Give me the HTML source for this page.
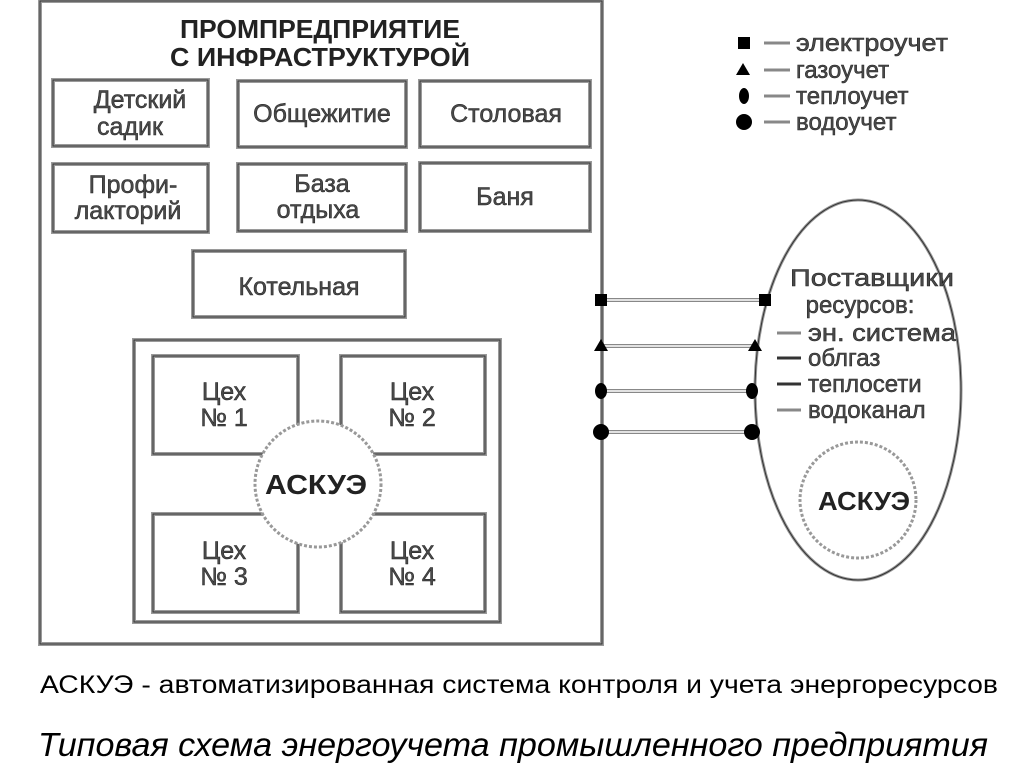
<!DOCTYPE html>
<html><head><meta charset="utf-8"><style>
html,body{margin:0;padding:0;background:#fff;}
svg{display:block;}
text{font-family:"Liberation Sans",sans-serif;}
</style></head><body>
<svg width="1024" height="767" viewBox="0 0 1024 767" xmlns="http://www.w3.org/2000/svg">
<defs>
<style>
.b{fill:#fff;stroke:#9a9a9a;stroke-width:4;}
.bi{fill:none;stroke:#333;stroke-width:1;}
.t{fill:#4a4a4a;font-size:25px;text-anchor:middle;stroke:#222;stroke-width:0.5;}
.h{fill:#222;font-size:26px;font-weight:bold;text-anchor:middle;}
.lg{fill:#4a4a4a;font-size:24px;stroke:#222;stroke-width:0.5;}
.e{fill:#4a4a4a;font-size:24px;stroke:#222;stroke-width:0.5;}
</style>
</defs>
<rect x="40" y="1" width="562" height="643" class="b"/>
<rect x="40" y="1" width="562" height="643" class="bi"/>
<text class="h" x="320" y="38" textLength="280" lengthAdjust="spacingAndGlyphs">ПРОМПРЕДПРИЯТИЕ</text>
<text class="h" x="320" y="66" textLength="300" lengthAdjust="spacingAndGlyphs">С ИНФРАСТРУКТУРОЙ</text>

<rect x="53" y="80" width="155" height="66" class="b"/><rect x="53" y="80" width="155" height="66" class="bi"/>
<text class="t" x="140" y="108">Детский</text><text class="t" x="130" y="135">садик</text>
<rect x="238" y="81" width="168" height="66" class="b"/><rect x="238" y="81" width="168" height="66" class="bi"/>
<text class="t" x="322" y="122">Общежитие</text>
<rect x="420" y="81" width="170" height="66" class="b"/><rect x="420" y="81" width="170" height="66" class="bi"/>
<text class="t" x="506" y="122">Столовая</text>

<rect x="53" y="164" width="155" height="68" class="b"/><rect x="53" y="164" width="155" height="68" class="bi"/>
<text class="t" x="133" y="193">Профи-</text><text class="t" x="128" y="219">лакторий</text>
<rect x="238" y="164" width="168" height="67" class="b"/><rect x="238" y="164" width="168" height="67" class="bi"/>
<text class="t" x="322" y="192">База</text><text class="t" x="318" y="218">отдыха</text>
<rect x="420" y="163" width="170" height="68" class="b"/><rect x="420" y="163" width="170" height="68" class="bi"/>
<text class="t" x="505" y="205">Баня</text>

<rect x="193" y="251" width="212" height="66" class="b"/><rect x="193" y="251" width="212" height="66" class="bi"/>
<text class="t" x="299" y="295">Котельная</text>

<rect x="134" y="340" width="366" height="282" class="b"/><rect x="134" y="340" width="366" height="282" class="bi"/>
<rect x="153" y="356" width="145" height="98" class="b"/><rect x="153" y="356" width="145" height="98" class="bi"/>
<rect x="341" y="356" width="144" height="98" class="b"/><rect x="341" y="356" width="144" height="98" class="bi"/>
<rect x="153" y="514" width="145" height="98" class="b"/><rect x="153" y="514" width="145" height="98" class="bi"/>
<rect x="341" y="514" width="144" height="98" class="b"/><rect x="341" y="514" width="144" height="98" class="bi"/>
<text class="t" x="224" y="400">Цех</text><text class="t" x="224" y="426">№  1</text>
<text class="t" x="412" y="400">Цех</text><text class="t" x="412" y="426">№  2</text>
<text class="t" x="224" y="559">Цех</text><text class="t" x="224" y="585">№  3</text>
<text class="t" x="412" y="559">Цех</text><text class="t" x="412" y="585">№  4</text>
<circle cx="318" cy="484" r="63" fill="#fff" stroke="#999" stroke-width="3" stroke-dasharray="3 2"/>
<text class="h" x="316" y="494" style="font-size:28px" textLength="102" lengthAdjust="spacingAndGlyphs">АСКУЭ</text>

<g stroke="#888" stroke-width="4" fill="none">
<line x1="601" y1="300" x2="765" y2="300"/>
<line x1="601" y1="346" x2="755" y2="346"/>
<line x1="601" y1="391" x2="752" y2="391"/>
<line x1="601" y1="432" x2="752" y2="432"/>
</g>
<g stroke="#fff" stroke-width="1.5">
<line x1="601" y1="300" x2="765" y2="300"/>
<line x1="601" y1="346" x2="755" y2="346"/>
<line x1="601" y1="391" x2="752" y2="391"/>
<line x1="601" y1="432" x2="752" y2="432"/>
</g>
<ellipse cx="858" cy="390" rx="103" ry="190" fill="none" stroke="#999" stroke-width="3"/>
<ellipse cx="858" cy="390" rx="103" ry="190" fill="none" stroke="#333" stroke-width="1"/>
<g fill="#000">
<rect x="595" y="294" width="12" height="12"/><rect x="759" y="294" width="12" height="12"/>
<polygon points="601,339 594,351 608,351"/><polygon points="755,339 748,351 762,351"/>
<ellipse cx="601" cy="391" rx="6" ry="8"/><ellipse cx="752" cy="391" rx="6" ry="8"/>
<circle cx="601" cy="432" r="8"/><circle cx="752" cy="432" r="8"/>
</g>
<text class="e" x="872" y="286" text-anchor="middle" textLength="164" lengthAdjust="spacingAndGlyphs">Поставщики</text>
<text class="e" x="860" y="313" text-anchor="middle">ресурсов:</text>
<g stroke="#888" stroke-width="3"><line x1="777" y1="333" x2="801" y2="333"/><line x1="777" y1="358" x2="801" y2="358" stroke="#333"/><line x1="777" y1="384" x2="801" y2="384" stroke="#333"/><line x1="777" y1="410" x2="801" y2="410"/></g>
<text class="e" x="808" y="341" textLength="148" lengthAdjust="spacingAndGlyphs">эн. система</text>
<text class="e" x="808" y="366">облгаз</text>
<text class="e" x="808" y="392">теплосети</text>
<text class="e" x="808" y="418">водоканал</text>
<circle cx="858" cy="500" r="58" fill="none" stroke="#999" stroke-width="3" stroke-dasharray="3 2"/>
<text class="h" x="864" y="510" style="font-size:26px" textLength="92" lengthAdjust="spacingAndGlyphs">АСКУЭ</text>

<g fill="#000">
<rect x="738" y="37" width="12" height="12"/>
<polygon points="743,63 736,75 750,75"/>
<ellipse cx="744" cy="96" rx="5" ry="8"/>
<circle cx="744" cy="122" r="8"/>
</g>
<g stroke="#888" stroke-width="3">
<line x1="764" y1="43" x2="790" y2="43"/><line x1="764" y1="70" x2="790" y2="70"/>
<line x1="764" y1="96" x2="790" y2="96"/><line x1="764" y1="122" x2="790" y2="122"/>
</g>
<text class="lg" x="796" y="51" textLength="152" lengthAdjust="spacingAndGlyphs">электроучет</text>
<text class="lg" x="796" y="78">газоучет</text>
<text class="lg" x="796" y="104">теплоучет</text>
<text class="lg" x="796" y="130">водоучет</text>

<text x="40" y="693" font-size="25" fill="#000" textLength="958" lengthAdjust="spacingAndGlyphs">АСКУЭ - автоматизированная система контроля и учета энергоресурсов</text>
<text x="38" y="756" font-size="33" font-style="italic" fill="#000" textLength="950" lengthAdjust="spacingAndGlyphs">Типовая схема энергоучета промышленного предприятия</text>
</svg>
</body></html>
